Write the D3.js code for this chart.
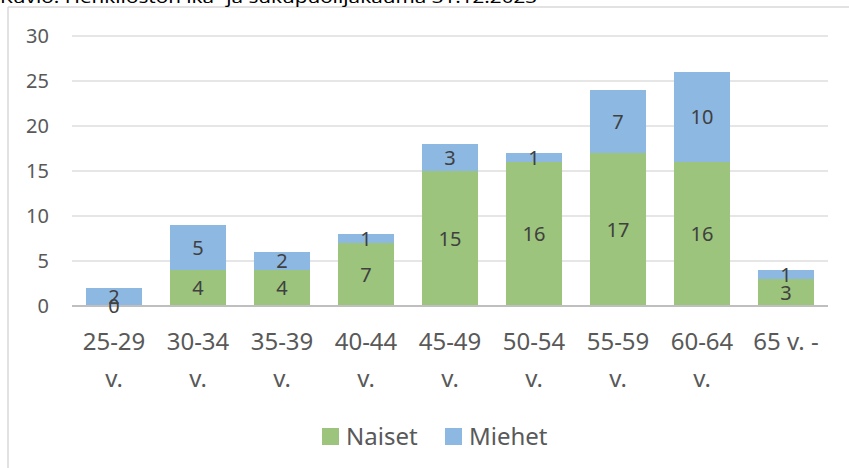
<!DOCTYPE html>
<html><head><meta charset="utf-8">
<script src="https://cdn.jsdelivr.net/npm/d3@7/dist/d3.min.js"></script>
<style>body{margin:0;background:#fff}svg{display:block}</style>
</head><body><svg id="c" width="849" height="468"></svg>
<script>
const title = "Kuvio: Henkilöstön ikä- ja sukupuolijakauma 31.12.2023";
const categories = ["25-29 v.", "30-34 v.", "35-39 v.", "40-44 v.", "45-49 v.", "50-54 v.", "55-59 v.", "60-64 v.", "65 v. -"];
const naiset = [0, 4, 4, 7, 15, 16, 17, 16, 3];
const miehet = [2, 5, 2, 1, 3, 1, 7, 10, 1];
const yTicks = [0, 5, 10, 15, 20, 25, 30];
const seriesNames = ["Naiset", "Miehet"];
const colors = ["#9cc47c", "#8db8e2"];

(function () {
const svg = d3.select("#c");
const font = "'Noto Sans', sans-serif";
const pLeft = 72, pRight = 828, pTop = 36, pBottom = 306;

// frame
svg.append("line").attr("x1", 8).attr("x2", 8).attr("y1", 7).attr("y2", 468).attr("stroke", "#d9d9d9").attr("stroke-width", 1.5);
svg.append("line").attr("x1", 8).attr("x2", 849).attr("y1", 7).attr("y2", 7).attr("stroke", "#d9d9d9").attr("stroke-width", 1.5);

// title (cut off at top)
svg.append("text").attr("x", 0).attr("y", 3).attr("font-family", font).attr("font-size", 17)
  .attr("fill", "#000").attr("textLength", 537).attr("lengthAdjust", "spacingAndGlyphs").text(title);

const x = d3.scaleBand().domain(categories).range([pLeft, pRight]).paddingInner(0.333).paddingOuter(0.1665);
const y = d3.scaleLinear().domain([0, 30]).range([pBottom, pTop]);

// gridlines
svg.append("g").selectAll("line").data(yTicks.filter(d => d > 0)).join("line")
  .attr("x1", pLeft).attr("x2", pRight).attr("y1", d => y(d)).attr("y2", d => y(d))
  .attr("stroke", "#e6e6e6").attr("stroke-width", 2);

// y labels
svg.append("g").selectAll("text").data(yTicks).join("text")
  .attr("x", 49).attr("y", d => y(d)).attr("dy", "0.35em").attr("text-anchor", "end")
  .attr("font-family", font).attr("font-size", 20).attr("fill", "#595959").text(d => d);

const data = categories.map((c, i) => ({cat: c, Naiset: naiset[i], Miehet: miehet[i]}));
const stacked = d3.stack().keys(seriesNames)(data);

const g = svg.append("g");
stacked.forEach((s, si) => {
  g.append("g").selectAll("rect").data(s).join("rect")
    .attr("x", d => x(d.data.cat)).attr("width", x.bandwidth())
    .attr("y", d => y(d[1])).attr("height", d => y(d[0]) - y(d[1]))
    .attr("fill", colors[si]);
});

// axis line
svg.append("line").attr("x1", pLeft).attr("x2", pRight).attr("y1", y(0)).attr("y2", y(0))
  .attr("stroke", "#bfbfbf").attr("stroke-width", 2);

// data labels
stacked.forEach((s, si) => {
  svg.append("g").selectAll("text").data(s).join("text")
    .attr("x", d => x(d.data.cat) + x.bandwidth() / 2)
    .attr("y", d => y((d[0] + d[1]) / 2)).attr("dy", "0.35em").attr("text-anchor", "middle")
    .attr("font-family", font).attr("font-size", 20).attr("fill", "#404040")
    .text(d => d[1] - d[0]);
});

// x labels
const xl = svg.append("g").selectAll("text").data(categories).join("text")
  .attr("text-anchor", "middle").attr("font-family", font).attr("font-size", 24).attr("fill", "#595959");
xl.each(function(d) {
  const t = d3.select(this);
  const cx = x(d) + x.bandwidth() / 2;
  let lines;
  if (d.endsWith(" v.")) lines = [d.slice(0, -3), "v."]; else lines = [d];
  lines.forEach((ln, i) => t.append("tspan").attr("x", cx).attr("y", 342 + i * 37).attr("dy", "0.35em").text(ln));
});

// legend
const leg = [{n: seriesNames[0], c: colors[0], x: 322}, {n: seriesNames[1], c: colors[1], x: 445}];
const lg = svg.append("g").selectAll("g").data(leg).join("g");
lg.append("rect").attr("x", d => d.x).attr("y", 428).attr("width", 17).attr("height", 17).attr("fill", d => d.c);
lg.append("text").attr("x", d => d.x + 24).attr("y", 437).attr("dy", "0.35em")
  .attr("font-family", font).attr("font-size", 24).attr("fill", "#595959").text(d => d.n);
})();
</script></body></html>
